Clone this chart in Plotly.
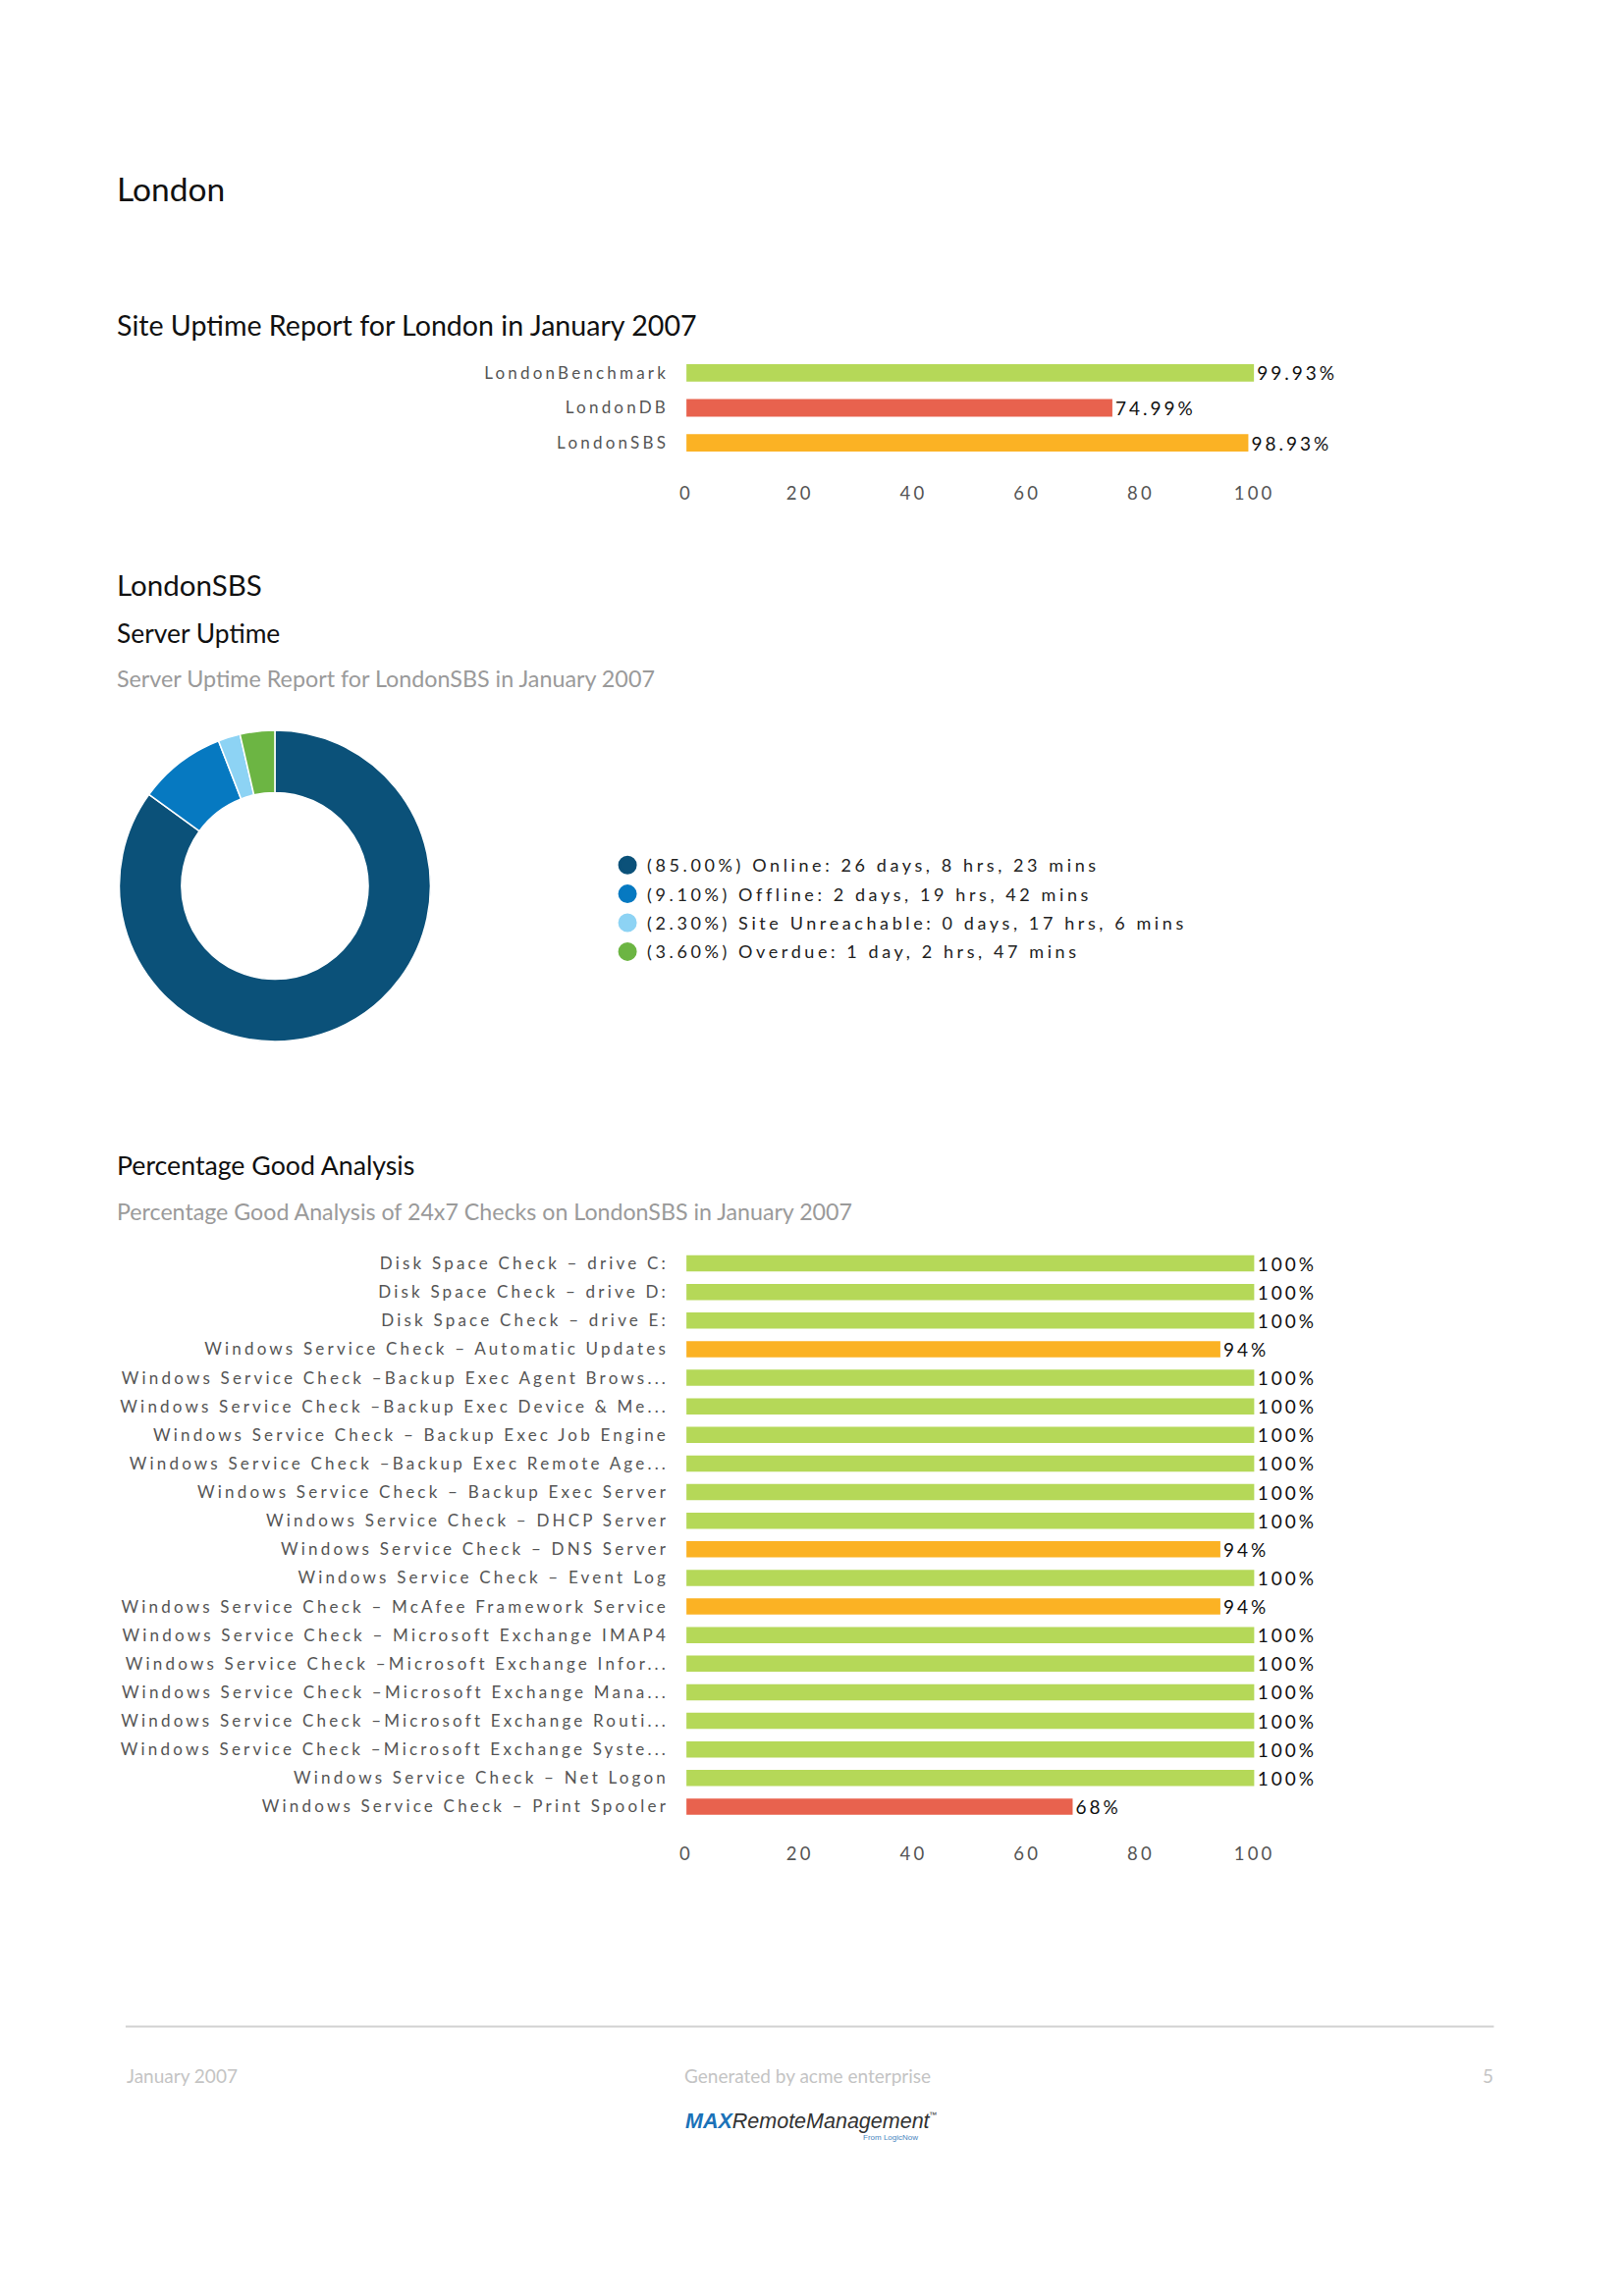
import plotly.graph_objects as go

W, H = 1653, 2339


def px(x):
    return x / W


def py(y):
    return 1 - y / H


# ---------------- data ----------------
site_names = ["LondonBenchmark", "LondonDB", "LondonSBS"]
site_uptime = [99.93, 74.99, 98.93]

uptime_labels = ["Online", "Offline", "Site Unreachable", "Overdue"]
uptime_pct = [85.00, 9.10, 2.30, 3.60]
uptime_durations = ["26 days, 8 hrs, 23 mins", "2 days, 19 hrs, 42 mins",
                    "0 days, 17 hrs, 6 mins", "1 day, 2 hrs, 47 mins"]
uptime_colors = ["#0b5179", "#0679c1", "#8dd3f4", "#6cb543"]

check_names = [
    "Disk Space Check – drive C:",
    "Disk Space Check – drive D:",
    "Disk Space Check – drive E:",
    "Windows Service Check – Automatic Updates",
    "Windows Service Check –Backup Exec Agent Brows...",
    "Windows Service Check –Backup Exec Device & Me...",
    "Windows Service Check – Backup Exec Job Engine",
    "Windows Service Check –Backup Exec Remote Age...",
    "Windows Service Check – Backup Exec Server",
    "Windows Service Check – DHCP Server",
    "Windows Service Check – DNS Server",
    "Windows Service Check – Event Log",
    "Windows Service Check – McAfee Framework Service",
    "Windows Service Check – Microsoft Exchange IMAP4",
    "Windows Service Check –Microsoft Exchange Infor...",
    "Windows Service Check –Microsoft Exchange Mana...",
    "Windows Service Check –Microsoft Exchange Routi...",
    "Windows Service Check –Microsoft Exchange Syste...",
    "Windows Service Check – Net Logon",
    "Windows Service Check – Print Spooler",
]
check_pct = [100, 100, 100, 94, 100, 100, 100, 100, 100, 100,
             94, 100, 94, 100, 100, 100, 100, 100, 100, 68]

axis_ticks = [0, 20, 40, 60, 80, 100]

GREEN, ORANGE, RED = "#b5d858", "#fbb224", "#e8624e"


def status_color(v):
    if v >= 99.5:
        return GREEN
    if v >= 80:
        return ORANGE
    return RED


BASE = "Lato, Open Sans, sans-serif"
YTICK_FONT = dict(family=BASE, size=17, color="#555555")
XTICK_FONT = dict(family=BASE, size=18.5, color="#555555")
BAR_TEXT_FONT = dict(family=BASE, size=19, color="#111111")

fig = go.Figure()

# ---------------- chart 1: site uptime ----------------
fig.add_trace(go.Bar(
    x=site_uptime, y=site_names, orientation="h",
    marker=dict(color=[status_color(v) for v in site_uptime], line=dict(width=0)),
    width=0.5,
    text=[f"{v:.2f}%" for v in site_uptime], textposition="outside",
    textfont=BAR_TEXT_FONT, constraintext="none",
    cliponaxis=False, hoverinfo="skip", showlegend=False,
    xaxis="x", yaxis="y",
))

# ---------------- donut ----------------
fig.add_trace(go.Pie(
    labels=uptime_labels, values=uptime_pct, hole=0.6, sort=False,
    direction="clockwise", rotation=0,
    marker=dict(colors=uptime_colors, line=dict(color="white", width=1.5)),
    textinfo="none", hoverinfo="skip", showlegend=False,
    domain=dict(x=[px(118), px(439)], y=[py(1063), py(742)]),
))

# legend entries (circles)
for i, (lab, pct, dur, col) in enumerate(zip(uptime_labels, uptime_pct, uptime_durations, uptime_colors)):
    fig.add_trace(go.Scatter(
        x=[None], y=[None], mode="markers",
        marker=dict(symbol="circle", size=20, color=col, line=dict(color=col, width=3)),
        name=f"({pct:.2f}%) {lab}: {dur}", legendgroup=f"g{i}",
        xaxis="x3", yaxis="y3", hoverinfo="skip",
    ))

# ---------------- chart 3: percentage good ----------------
fig.add_trace(go.Bar(
    x=check_pct, y=check_names, orientation="h",
    marker=dict(color=[status_color(v) for v in check_pct], line=dict(width=0)),
    width=0.57,
    text=[f"{v:.0f}%" for v in check_pct], textposition="outside",
    textfont=BAR_TEXT_FONT, constraintext="none",
    cliponaxis=False, hoverinfo="skip", showlegend=False,
    xaxis="x2", yaxis="y2",
))

axis_x_common = dict(range=[0, 100], tickvals=axis_ticks, showgrid=False, zeroline=False,
                     showline=False, ticks="", tickfont=XTICK_FONT, fixedrange=True,
                     ticklabelstandoff=20)
axis_y_common = dict(type="category", autorange="reversed", showgrid=False, zeroline=False,
                     showline=False, ticks="", tickfont=YTICK_FONT, fixedrange=True,
                     ticklabelstandoff=17)

annotations = []


def txt(x, y, s, size, color="#111111", anchor="left", family=BASE):
    annotations.append(dict(
        x=px(x), y=py(y), xref="paper", yref="paper", text=s, showarrow=False,
        xanchor=anchor, yanchor="middle",
        font=dict(family=family, size=size, color=color),
    ))


txt(113, 191.5, "London", 33.5)
txt(113, 331.5, "Site Uptime Report for London in January 2007", 28.6)
txt(113, 595, "LondonSBS", 29.5)
txt(113, 645, "Server Uptime", 26.4)
txt(113, 691, "Server Uptime Report for LondonSBS in January 2007", 23.3, "#9a9a9a")
txt(113, 1187, "Percentage Good Analysis", 26.7)
txt(113, 1234, "Percentage Good Analysis of 24x7 Checks on LondonSBS in January 2007", 23.2, "#9a9a9a")

# footer
txt(124, 2114, "January 2007", 19, "#c4c4c4")
txt(699, 2114, "Generated by acme enterprise", 19, "#c4c4c4")
txt(1538, 2114, "5", 19, "#c4c4c4", anchor="right")
txt(700, 2161,
    "<b><i><span style='color:#1b72b8'>MAX</span></i></b><i>RemoteManagement</i>",
    21.5, "#333333", family="Liberation Sans, Arial, sans-serif")
txt(951, 2154, "™", 8, "#333333", family="Liberation Sans, Arial, sans-serif")
txt(944, 2177, "From LogicNow", 8, "#4a86c0", anchor="right",
    family="Liberation Sans, Arial, sans-serif")

fig.update_layout(
    width=W, height=H, autosize=False,
    margin=dict(l=0, r=0, t=0, b=0),
    paper_bgcolor="white", plot_bgcolor="white",
    xaxis=dict(domain=[px(703), px(1289)], anchor="y", **axis_x_common),
    yaxis=dict(domain=[py(469), py(362)], anchor="x", **axis_y_common),
    xaxis2=dict(domain=[px(703), px(1289)], anchor="y2", **axis_x_common),
    yaxis2=dict(domain=[py(1855), py(1272.5)], anchor="x2", **axis_y_common),
    xaxis3=dict(domain=[0, 0.001], anchor="y3", visible=False),
    yaxis3=dict(domain=[0, 0.001], anchor="x3", visible=False),
    showlegend=True,
    legend=dict(x=px(622), y=py(863), xanchor="left", yanchor="top",
                font=dict(family=BASE, size=18, color="#222222"),
                bgcolor="rgba(0,0,0,0)", itemclick=False, itemdoubleclick=False,
                tracegroupgap=3),
    annotations=annotations,
    shapes=[dict(type="line", xref="paper", yref="paper",
                 x0=px(124.5), x1=px(1536), y0=py(2064.5), y1=py(2064.5),
                 line=dict(color="#d2d2d2", width=2))],
)

post = """
document.body.style.margin = '0';
document.body.style.overflow = 'hidden';
var gd = document.getElementById('{plot_id}');
function spacing() {
  gd.querySelectorAll('g[class$="tick"] text').forEach(function(e) {
    e.style.letterSpacing = '3.2px';
  });
  gd.querySelectorAll('.legendtext').forEach(function(e) {
    e.style.letterSpacing = '3.6px';
  });
  gd.querySelectorAll('.bartext').forEach(function(e) {
    if (e.getAttribute('data-ls')) return;
    var w0 = e.getBBox().width;
    e.style.letterSpacing = '3px';
    var w1 = e.getBBox().width;
    var x0 = parseFloat(e.getAttribute('x') || '0');
    e.setAttribute('x', x0 + (w1 - w0) / 2);
    e.setAttribute('data-ls', '1');
  });
  gd.querySelectorAll('.legend .scrollbox, .legend').forEach(function(e) {
    e.removeAttribute('clip-path');
  });
}
spacing();
if (gd.on) { gd.on('plotly_afterplot', spacing); }
setTimeout(spacing, 50);
"""

fig.write_html("out.html", config={"displayModeBar": False, "staticPlot": True}, post_script=post)
